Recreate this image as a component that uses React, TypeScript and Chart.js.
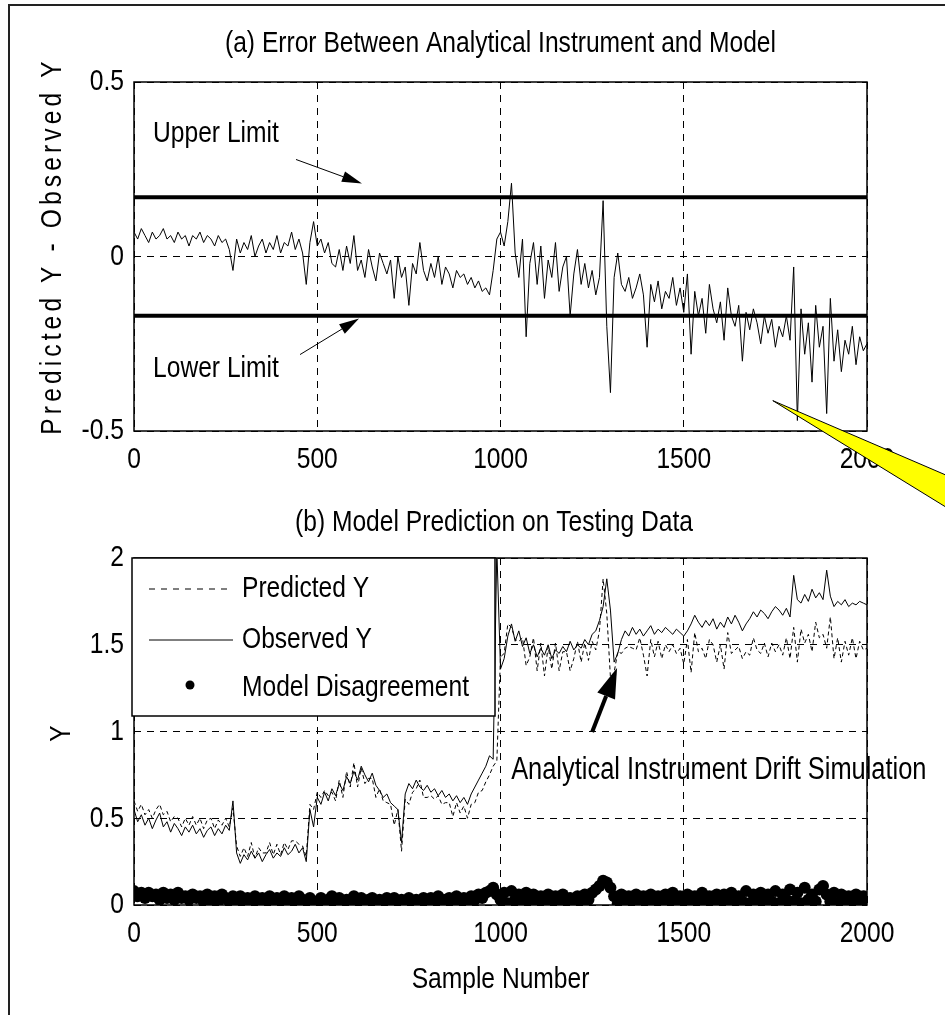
import React, { useEffect, useRef } from "react";
import { Chart, registerables } from "chart.js";

Chart.register(...registerables);

// ---------------- DATA ----------------
const SAMPLE_STEP = 10; // one value every 10 samples
const X_TICKS = [0, 500, 1000, 1500, 2000];
const X_TICK_LABELS = ["0", "500", "1000", "1500", "2000"];
const Y_TICKS_A = [-0.5, 0, 0.5];
const Y_TICK_LABELS_A = ["-0.5", "0", "0.5"];
const Y_TICKS_B = [0, 0.5, 1, 1.5, 2];
const Y_TICK_LABELS_B = ["0", "0.5", "1", "1.5", "2"];
const UPPER_LIMIT = 0.17;
const LOWER_LIMIT = -0.17;

const ERROR_Y = [
  0.07, 0.05, 0.08, 0.06, 0.04, 0.07, 0.05, 0.06, 0.08, 0.05,
  0.06, 0.04, 0.07, 0.05, 0.06, 0.03, 0.06, 0.05, 0.07, 0.04,
  0.06, 0.05, 0.03, 0.06, 0.04, 0.05, 0.02, -0.04, 0.05, 0.01,
  0.04, 0.02, 0.06, 0.0, 0.03, 0.05, 0.01, 0.04, 0.02, 0.06,
  0.01, 0.04, 0.03, 0.07, 0.02, 0.05, 0.01, -0.08, 0.04, 0.1,
  0.03, 0.05, 0.01, 0.04, -0.02, -0.03, 0.02, -0.04, 0.03, -0.02,
  0.06, -0.04, -0.01, -0.06, 0.02, -0.03, -0.07, 0.01, -0.02, -0.05,
  -0.01, -0.12, 0.0, -0.06, -0.03, -0.14, -0.02, -0.05, 0.04, -0.04,
  -0.07, -0.02, -0.06, 0.0, -0.08, -0.03, -0.05, -0.09, -0.04, -0.06,
  -0.05, -0.08, -0.06, -0.09, -0.07, -0.1, -0.09, -0.11, -0.04, 0.05,
  0.07, 0.03, 0.1, 0.21, 0.01, -0.06, 0.05, -0.23, -0.02, 0.04,
  -0.08, 0.03, -0.12, -0.01, -0.06, 0.04, -0.1, -0.03, 0.0, -0.17,
  -0.05, 0.02, -0.08, -0.02, -0.09, -0.04, -0.11, -0.06, 0.16, -0.2,
  -0.39, -0.06, 0.01, -0.08, -0.1, -0.06, -0.12, -0.09, -0.05, -0.11,
  -0.26, -0.08, -0.13, -0.07, -0.15, -0.1, -0.12, -0.06, -0.14, -0.09,
  -0.16, -0.05, -0.28, -0.1, -0.17, -0.12, -0.22, -0.08, -0.15, -0.19,
  -0.13, -0.24, -0.09, -0.17, -0.2, -0.14, -0.3, -0.16, -0.21, -0.15,
  -0.19, -0.25, -0.17, -0.22, -0.18, -0.26, -0.2, -0.23, -0.17, -0.24,
  -0.03, -0.47, -0.15, -0.28, -0.19, -0.36, -0.14, -0.26, -0.2, -0.45,
  -0.12, -0.3, -0.21, -0.33, -0.24, -0.28, -0.2, -0.31, -0.23, -0.27,
  -0.25,
];

const OBSERVED_Y = [
  0.55, 0.48, 0.52, 0.46, 0.5, 0.44, 0.49, 0.53, 0.45, 0.48,
  0.42, 0.47, 0.44, 0.4, 0.45, 0.42, 0.46, 0.41, 0.44, 0.39,
  0.43, 0.45, 0.4, 0.44, 0.41, 0.46, 0.43, 0.6, 0.3, 0.24,
  0.29, 0.26, 0.31, 0.27, 0.3, 0.25, 0.29, 0.32, 0.27, 0.3,
  0.28, 0.33, 0.29, 0.31, 0.35, 0.3, 0.33, 0.25, 0.55, 0.45,
  0.62, 0.58, 0.65, 0.6, 0.67, 0.63, 0.7, 0.66, 0.74, 0.7,
  0.77, 0.72, 0.8, 0.75, 0.71, 0.76, 0.69, 0.66, 0.62, 0.64,
  0.59, 0.57, 0.55, 0.36, 0.64, 0.7, 0.67, 0.72, 0.68, 0.66,
  0.69, 0.65, 0.67, 0.63, 0.66, 0.62, 0.64, 0.6, 0.63, 0.59,
  0.62, 0.58, 0.64, 0.68, 0.72, 0.76, 0.8, 0.86, 0.84, 2.05,
  1.36, 1.42, 1.55, 1.62, 1.52, 1.58, 1.49, 1.54, 1.45, 1.5,
  1.43, 1.48, 1.44, 1.5, 1.42, 1.47, 1.45, 1.49, 1.46, 1.52,
  1.47, 1.5, 1.48, 1.53, 1.5, 1.56, 1.58, 1.64, 1.72, 1.88,
  1.7, 1.4, 1.45, 1.53, 1.58, 1.55, 1.6, 1.56, 1.59, 1.55,
  1.58, 1.61, 1.56, 1.59, 1.57, 1.6, 1.58, 1.56, 1.59, 1.57,
  1.55, 1.58, 1.62, 1.67, 1.63, 1.6, 1.64, 1.61, 1.65, 1.59,
  1.63, 1.6, 1.66, 1.62, 1.67, 1.63, 1.58, 1.62, 1.65, 1.69,
  1.66, 1.7, 1.68, 1.65, 1.69, 1.72, 1.7, 1.67, 1.71, 1.66,
  1.9, 1.76, 1.74, 1.79, 1.75, 1.82, 1.77, 1.8, 1.76, 1.93,
  1.78, 1.72, 1.75, 1.73, 1.76, 1.72, 1.74, 1.73, 1.75, 1.74,
  1.73,
];

const PREDICTED_Y = [
  0.6, 0.54, 0.58, 0.52, 0.55, 0.5, 0.55, 0.58, 0.52, 0.54,
  0.48, 0.51, 0.5, 0.45, 0.5, 0.46, 0.51, 0.46, 0.5, 0.44,
  0.49, 0.5, 0.44, 0.49, 0.46, 0.5, 0.45, 0.56, 0.34, 0.28,
  0.33, 0.28, 0.36, 0.27, 0.33, 0.3, 0.3, 0.36, 0.29, 0.35,
  0.29, 0.36, 0.32, 0.37, 0.37, 0.35, 0.34, 0.28, 0.58, 0.55,
  0.65, 0.62, 0.66, 0.63, 0.65, 0.6, 0.72, 0.62, 0.77, 0.68,
  0.82, 0.68, 0.79, 0.7, 0.73, 0.73, 0.62, 0.67, 0.6, 0.59,
  0.58, 0.46, 0.55, 0.31, 0.61, 0.58, 0.65, 0.67, 0.72, 0.62,
  0.62, 0.63, 0.61, 0.63, 0.58, 0.59, 0.59, 0.51, 0.59, 0.53,
  0.57, 0.5, 0.58, 0.59, 0.65, 0.66, 0.71, 0.75, 0.8, 0.83,
  1.43, 1.45, 1.62, 1.6, 1.53, 1.52, 1.54, 1.38, 1.43, 1.54,
  1.35, 1.51, 1.32, 1.49, 1.36, 1.51, 1.35, 1.46, 1.46, 1.35,
  1.42, 1.52, 1.4, 1.51, 1.41, 1.52, 1.47, 1.58, 1.88, 1.68,
  1.31, 1.34, 1.46, 1.45, 1.48, 1.49, 1.48, 1.47, 1.54, 1.44,
  1.32, 1.53, 1.43, 1.52, 1.42, 1.5, 1.46, 1.5, 1.45, 1.48,
  1.39, 1.53, 1.34, 1.57, 1.46, 1.48, 1.42, 1.53, 1.5, 1.4,
  1.5, 1.36, 1.57, 1.45, 1.47, 1.49, 1.42, 1.46, 1.44, 1.54,
  1.47, 1.45, 1.51, 1.43, 1.51, 1.46, 1.5, 1.44, 1.54, 1.42,
  1.6, 1.4, 1.59, 1.51, 1.56, 1.46, 1.63, 1.54, 1.56, 1.48,
  1.66, 1.42, 1.54, 1.4, 1.52, 1.44, 1.54, 1.42, 1.52, 1.47,
  1.48,
];

const DISAGREEMENT = [
  0.08, 0.05, 0.07, 0.04, 0.07, 0.05, 0.06, 0.03, 0.07, 0.04,
  0.06, 0.03, 0.07, 0.04, 0.05, 0.03, 0.06, 0.04, 0.05, 0.02,
  0.06, 0.03, 0.05, 0.02, 0.06, 0.04, 0.02, 0.05, 0.03, 0.05,
  0.02, 0.04, 0.01, 0.05, 0.03, 0.04, 0.02, 0.05, 0.03, 0.04,
  0.02, 0.05, 0.01, 0.04, 0.02, 0.05, 0.03, 0.01, 0.04, 0.02,
  0.01, 0.04, 0.02, 0.03, 0.05, 0.01, 0.04, 0.02, 0.03, 0.01,
  0.05, 0.02, 0.04, 0.01, 0.03, 0.04, 0.01, 0.03, 0.02, 0.04,
  0.01, 0.04, 0.02, 0.03, 0.01, 0.04, 0.02, 0.03, 0.01, 0.04,
  0.02, 0.04, 0.01, 0.05, 0.02, 0.03, 0.04, 0.01, 0.05, 0.03,
  0.04, 0.02, 0.05, 0.03, 0.06, 0.04, 0.07, 0.08, 0.1, 0.06,
  0.03, 0.07, 0.01, 0.08, 0.03, 0.06, 0.01, 0.07, 0.02, 0.06,
  0.01, 0.05, 0.02, 0.06, 0.01, 0.05, 0.02, 0.06, 0.01, 0.04,
  0.02, 0.05, 0.01, 0.06, 0.03, 0.07, 0.09, 0.11, 0.14, 0.13,
  0.1, 0.05, 0.01, 0.06, 0.02, 0.05, 0.01, 0.06, 0.02, 0.05,
  0.01, 0.06, 0.02, 0.05, 0.01, 0.06, 0.02, 0.07, 0.01, 0.05,
  0.02, 0.06, 0.01, 0.05, 0.02, 0.07, 0.01, 0.05, 0.02, 0.06,
  0.01, 0.06, 0.02, 0.07, 0.01, 0.05, 0.02, 0.08, 0.01, 0.06,
  0.02, 0.07, 0.01, 0.06, 0.02, 0.08, 0.01, 0.06, 0.03, 0.09,
  0.02, 0.07, 0.01, 0.1, 0.03, 0.06, 0.02, 0.09, 0.11, 0.06,
  0.02, 0.07, 0.01, 0.06, 0.02, 0.05, 0.01, 0.06, 0.02, 0.05,
  0.02,
];

const TITLE_A = "(a) Error Between Analytical Instrument and Model";
const TITLE_B = "(b) Model Prediction on Testing Data";
const YLABEL_A = "Predicted Y - Observed Y";
const YLABEL_B = "Y";
const XLABEL_B = "Sample Number";
const LEGEND_LABELS = ["Predicted Y", "Observed Y", "Model Disagreement"];
const NOTE_UPPER = "Upper Limit";
const NOTE_LOWER = "Lower Limit";
const NOTE_DRIFT = "Analytical Instrument Drift Simulation";

// --------------- STYLE ----------------
const FONT = "'Liberation Sans', Arial, Helvetica, sans-serif";
const FS = 30;
const NARROW = 0.82; // horizontal compression to mimic a narrow face

const toXY = (arr: number[]) => arr.map((v, i) => ({ x: i * SAMPLE_STEP, y: v }));

function drawText(
  ctx: CanvasRenderingContext2D,
  str: string,
  x: number,
  y: number,
  align: CanvasTextAlign = "left",
  size = FS,
  spacing = 0
) {
  ctx.save();
  ctx.translate(x, y);
  ctx.scale(NARROW, 1);
  ctx.font = `${size}px ${FONT}`;
  ctx.fillStyle = "#000";
  ctx.textAlign = align;
  ctx.textBaseline = "middle";
  (ctx as any).letterSpacing = `${spacing}px`;
  ctx.fillText(str, 0, 0);
  ctx.restore();
}

function drawRotated(ctx: CanvasRenderingContext2D, str: string, x: number, y: number, spacing: number) {
  ctx.save();
  ctx.translate(x, y);
  ctx.rotate(-Math.PI / 2);
  drawText(ctx, str, 0, 0, "center", FS, spacing);
  ctx.restore();
}

function drawArrow(
  ctx: CanvasRenderingContext2D,
  x1: number,
  y1: number,
  x2: number,
  y2: number,
  lw: number,
  hl: number,
  hw: number
) {
  const a = Math.atan2(y2 - y1, x2 - x1);
  const bx = x2 - hl * Math.cos(a);
  const by = y2 - hl * Math.sin(a);
  ctx.save();
  ctx.strokeStyle = "#000";
  ctx.fillStyle = "#000";
  ctx.lineWidth = lw;
  ctx.beginPath();
  ctx.moveTo(x1, y1);
  ctx.lineTo(bx, by);
  ctx.stroke();
  ctx.beginPath();
  ctx.moveTo(x2, y2);
  ctx.lineTo(bx + (hw / 2) * Math.sin(a), by - (hw / 2) * Math.cos(a));
  ctx.lineTo(bx - (hw / 2) * Math.sin(a), by + (hw / 2) * Math.cos(a));
  ctx.closePath();
  ctx.fill();
  ctx.restore();
}

function drawTickLabels(chart: any, yTicks: number[], yLabels: string[]) {
  const { ctx, chartArea: c } = chart;
  const xs = chart.scales.x;
  const ys = chart.scales.y;
  X_TICKS.forEach((v, i) => drawText(ctx, X_TICK_LABELS[i], xs.getPixelForValue(v), c.bottom + 29, "center"));
  yTicks.forEach((v, i) => drawText(ctx, yLabels[i], c.left - 10, ys.getPixelForValue(v), "right"));
}

const frameBox = {
  id: "frameBox",
  afterDatasetsDraw(chart: any) {
    const { ctx, chartArea: c } = chart;
    ctx.save();
    ctx.strokeStyle = "#000";
    ctx.lineWidth = 1.5;
    ctx.strokeRect(c.left, c.top, c.right - c.left, c.bottom - c.top);
    ctx.restore();
  },
};

function xScaleOpts() {
  return {
    type: "linear" as const,
    min: 0,
    max: 2000,
    afterBuildTicks: (s: any) => {
      s.ticks = X_TICKS.map((v) => ({ value: v }));
    },
    afterFit: (s: any) => {
      s.height = 60;
    },
    grid: { color: "#000", lineWidth: 1, drawTicks: false },
    border: { display: false, dash: [7, 6] },
    ticks: { display: false },
  };
}

function yScaleOpts(min: number, max: number, ticks: number[]) {
  return {
    type: "linear" as const,
    min,
    max,
    afterBuildTicks: (s: any) => {
      s.ticks = ticks.map((v) => ({ value: v }));
    },
    afterFit: (s: any) => {
      s.width = 134;
    },
    grid: { color: "#000", lineWidth: 1, drawTicks: false },
    border: { display: false, dash: [7, 6] },
    ticks: { display: false },
  };
}

export default function App() {
  const refA = useRef<HTMLCanvasElement | null>(null);
  const refB = useRef<HTMLCanvasElement | null>(null);

  useEffect(() => {
    if (!refA.current || !refB.current) return;

    const annotA = {
      id: "annotA",
      afterDraw(chart: any) {
        const { ctx, chartArea: c } = chart;
        const xs = chart.scales.x;
        const ys = chart.scales.y;
        const X = (v: number) => xs.getPixelForValue(v);
        const Y = (v: number) => ys.getPixelForValue(v);
        drawTickLabels(chart, Y_TICKS_A, Y_TICK_LABELS_A);
        drawText(ctx, TITLE_A, (c.left + c.right) / 2, 44, "center");
        drawRotated(ctx, YLABEL_A, 53, 246, 5);
        drawText(ctx, NOTE_UPPER, X(52), Y(0.352), "left");
        drawText(ctx, NOTE_LOWER, X(52), Y(-0.321), "left");
        drawArrow(ctx, X(442), Y(0.278), X(622), Y(0.209), 1, 20, 11);
        drawArrow(ctx, X(453), Y(-0.281), X(614), Y(-0.178), 1, 20, 11);
        // yellow callout wedge
        const ax = X(1743);
        const ay = Y(-0.413);
        ctx.save();
        ctx.beginPath();
        ctx.moveTo(ax, ay);
        ctx.lineTo(ax + 200, ay + 86);
        ctx.lineTo(ax + 200, ay + 123);
        ctx.closePath();
        ctx.fillStyle = "#ffff00";
        ctx.fill();
        ctx.strokeStyle = "#000";
        ctx.lineWidth = 1;
        ctx.stroke();
        ctx.restore();
      },
    };

    const annotB = {
      id: "annotB",
      afterDraw(chart: any) {
        const { ctx, chartArea: c } = chart;
        const xs = chart.scales.x;
        const ys = chart.scales.y;
        const X = (v: number) => xs.getPixelForValue(v);
        const Y = (v: number) => ys.getPixelForValue(v);
        drawTickLabels(chart, Y_TICKS_B, Y_TICK_LABELS_B);
        drawText(ctx, TITLE_B, 494, 43, "center");
        drawRotated(ctx, YLABEL_B, 62, (c.top + c.bottom) / 2 + 2, 0);
        drawText(ctx, XLABEL_B, (c.left + c.right) / 2, 500, "center");
        drawText(ctx, NOTE_DRIFT, X(1029), Y(0.778), "left", 31);
        drawArrow(ctx, X(1250), Y(0.997), X(1318), Y(1.366), 4, 30, 19);
        // legend
        const lx = c.left - 2;
        const ly = c.top;
        const lw = 363;
        const lh = 158;
        ctx.save();
        ctx.fillStyle = "#fff";
        ctx.fillRect(lx, ly, lw, lh);
        ctx.strokeStyle = "#000";
        ctx.lineWidth = 1.5;
        ctx.strokeRect(lx, ly, lw, lh);
        const rows = [ly + 31, ly + 82, ly + 130];
        ctx.lineWidth = 1;
        ctx.beginPath();
        ctx.setLineDash([6, 6]);
        ctx.moveTo(lx + 17, rows[0]);
        ctx.lineTo(lx + 101, rows[0]);
        ctx.stroke();
        ctx.setLineDash([]);
        ctx.beginPath();
        ctx.moveTo(lx + 17, rows[1]);
        ctx.lineTo(lx + 101, rows[1]);
        ctx.stroke();
        ctx.beginPath();
        ctx.fillStyle = "#000";
        ctx.arc(lx + 58, rows[2] - 3, 4.5, 0, Math.PI * 2);
        ctx.fill();
        ctx.restore();
        LEGEND_LABELS.forEach((t, i) => drawText(ctx, t, lx + 110, rows[i], "left"));
      },
    };

    const chartA = new Chart(refA.current, {
      type: "line",
      data: {
        datasets: [
          {
            data: toXY(ERROR_Y),
            borderColor: "#000",
            borderWidth: 1,
            pointRadius: 0,
            tension: 0,
          },
          {
            data: [
              { x: 0, y: UPPER_LIMIT },
              { x: 2000, y: UPPER_LIMIT },
            ],
            borderColor: "#000",
            borderWidth: 4,
            pointRadius: 0,
          },
          {
            data: [
              { x: 0, y: LOWER_LIMIT },
              { x: 2000, y: LOWER_LIMIT },
            ],
            borderColor: "#000",
            borderWidth: 4,
            pointRadius: 0,
          },
        ],
      },
      options: {
        animation: false,
        responsive: false,
        devicePixelRatio: 1,
        layout: { padding: { top: 82, right: 78, left: 0, bottom: 39 } },
        plugins: { legend: { display: false }, title: { display: false }, tooltip: { enabled: false } },
        scales: { x: xScaleOpts(), y: yScaleOpts(-0.5, 0.5, Y_TICKS_A) },
      },
      plugins: [frameBox, annotA],
    } as any);

    const chartB = new Chart(refB.current, {
      type: "line",
      data: {
        datasets: [
          {
            data: toXY(PREDICTED_Y),
            borderColor: "#000",
            borderWidth: 1,
            borderDash: [4, 3],
            pointRadius: 0,
            tension: 0,
          },
          {
            data: toXY(OBSERVED_Y),
            borderColor: "#000",
            borderWidth: 1,
            pointRadius: 0,
            tension: 0,
          },
          {
            data: toXY(DISAGREEMENT),
            showLine: false,
            pointRadius: 6,
            pointBackgroundColor: "#000",
            pointBorderColor: "#000",
            pointBorderWidth: 0,
          },
        ],
      },
      options: {
        animation: false,
        responsive: false,
        devicePixelRatio: 1,
        layout: { padding: { top: 78, right: 78, left: 0, bottom: 50 } },
        plugins: { legend: { display: false }, title: { display: false }, tooltip: { enabled: false } },
        scales: { x: xScaleOpts(), y: yScaleOpts(0, 2, Y_TICKS_B) },
      },
      plugins: [frameBox, annotB],
    } as any);

    return () => {
      chartA.destroy();
      chartB.destroy();
    };
  }, []);

  return (
    <div
      style={{
        position: "fixed",
        left: 0,
        top: 0,
        width: 945,
        height: 1015,
        overflow: "hidden",
        background: "#fff",
      }}
    >
      <div
        style={{
          position: "absolute",
          left: 8,
          top: 4,
          width: 1000,
          height: 1100,
          border: "2px solid #222",
          boxSizing: "border-box",
        }}
      />
      <canvas
        ref={refB}
        width={945}
        height={535}
        style={{ position: "absolute", left: 0, top: 480, display: "block" }}
      />
      <canvas
        ref={refA}
        width={945}
        height={530}
        style={{ position: "absolute", left: 0, top: 0, display: "block" }}
      />
    </div>
  );
}
